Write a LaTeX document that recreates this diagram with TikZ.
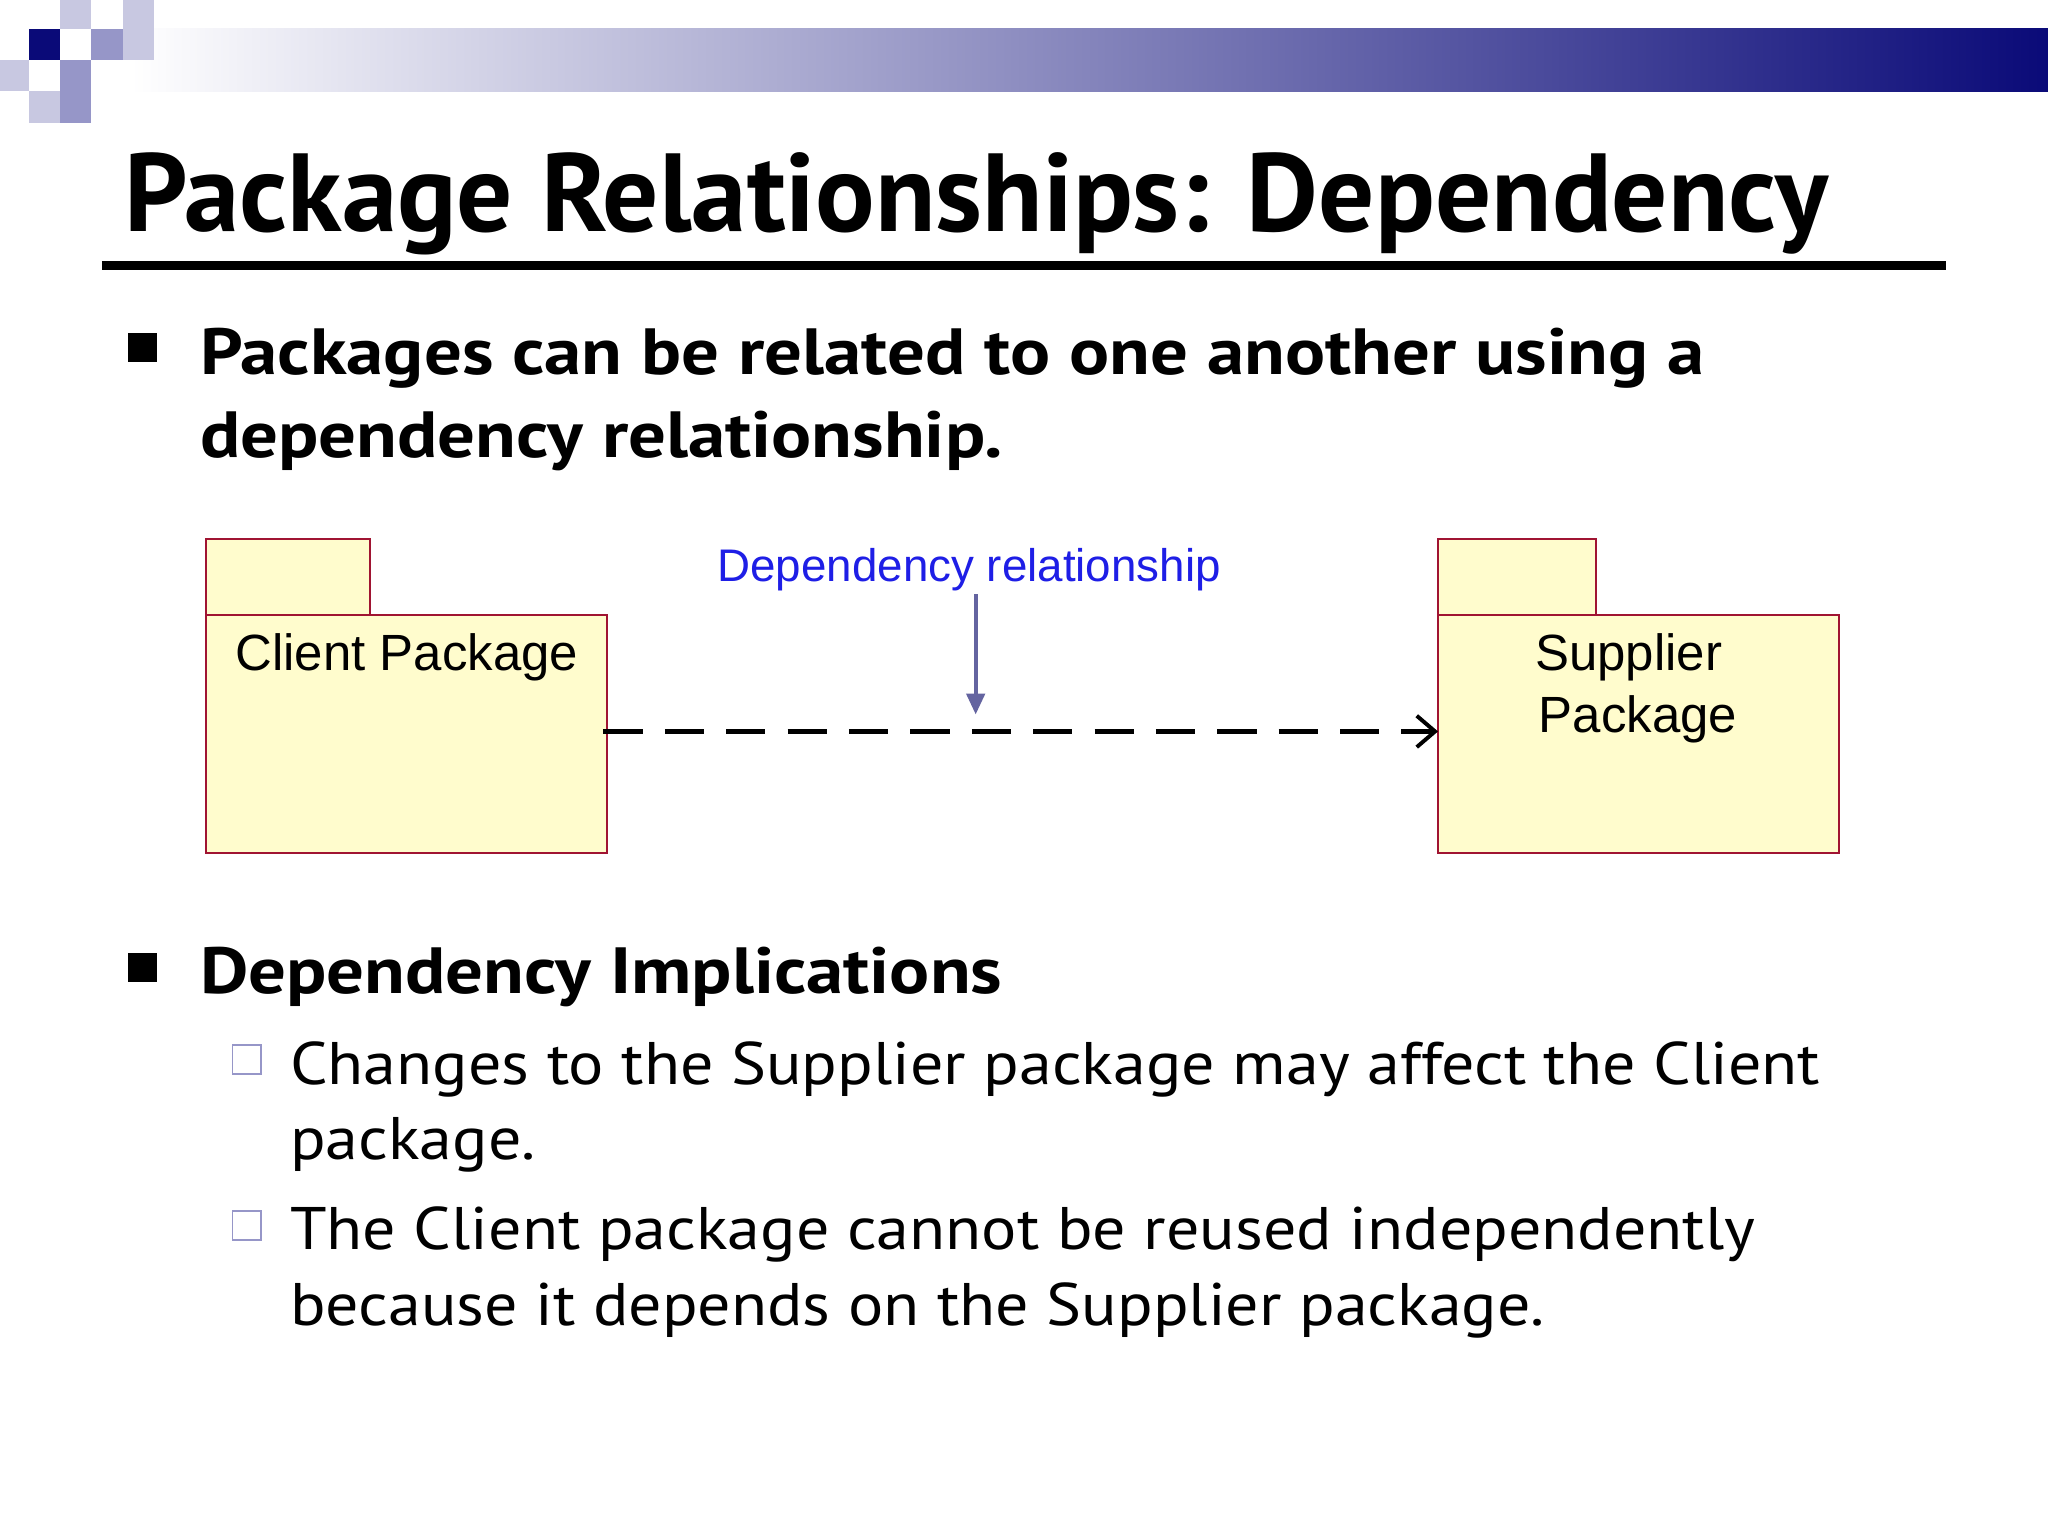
\documentclass[tikz,border=0pt]{standalone}
\usepackage{fontspec}
\setmainfont{PT Sans}
\newfontfamily\bulf[FakeStretch=1.145]{PT Sans}
\newfontfamily\subf[FakeStretch=1.098]{PT Sans}
\newfontfamily\arialf{Liberation Sans}
\usetikzlibrary{arrows.meta}
\definecolor{navyb}{RGB}{10,10,120}
\definecolor{pkgfill}{RGB}{255,252,205}
\definecolor{pkgline}{RGB}{160,20,50}
\definecolor{deplbl}{RGB}{30,30,230}
\definecolor{deparr}{RGB}{100,100,160}
\definecolor{sq2}{RGB}{150,150,200}
\definecolor{sq3}{RGB}{200,200,225}
\tikzset{
 pkg/.style={draw=pkgline,fill=pkgfill,line width=1.5pt},
 bigtxt/.style={anchor=base west,inner sep=0,font=\bulf\fontsize{50}{60}\selectfont\bfseries},
 subtxt/.style={anchor=base west,inner sep=0,font=\subf\fontsize{46}{58}\selectfont},
 dlbl/.style={font=\arialf\fontsize{35}{42}\selectfont,inner sep=0},
 plbl/.style={font=\arialf\fontsize{39}{46}\selectfont,inner sep=0,anchor=base}
}
\begin{document}
\begin{tikzpicture}[x=1pt,y=-1pt]
\useasboundingbox (0,0) rectangle (1568,1176);
\fill[white] (0,0) rectangle (1568,1176);
% header
\shade[left color=white,right color=navyb] (100,22) rectangle (1568,70);
\fill[sq3] (46,0) rectangle (70,22);
\fill[sq3] (94,0) rectangle (118,22);
\fill[sq2] (70,22) rectangle (94,46);
\fill[sq3] (94,22) rectangle (118,46);
\fill[sq2] (46,46) rectangle (70,70);
\fill[sq3] (0,46) rectangle (22,70);
\fill[sq2] (46,70) rectangle (70,94);
\fill[sq3] (22,70) rectangle (46,94);
\fill[navyb] (22,22) rectangle (46,46);
\node[anchor=base west,inner sep=0,font=\fontsize{85}{100}\selectfont\bfseries] (title) at (95,177) {Package Relationships: Dependency};
\draw[line width=7pt] (78,203) -- (1490,203);
% bullet 1
\fill (98,255) rectangle (120,277);
\node[bigtxt] (b1a) at (153,287) {Packages can be related to one another using a};
\node[bigtxt] (b1b) at (153,350) {dependency relationship.};
% packages
\draw[pkg] (158,413) rectangle (283,471);
\draw[pkg] (158,471) rectangle (465,653);
\node[plbl] (client) at (311.5,513) {Client Package};
\draw[pkg] (1101,413) rectangle (1222,471);
\draw[pkg] (1101,471) rectangle (1408,653);
\node[plbl] (supp) at (1247,513) {Supplier};
\node[plbl] (supp2) at (1254,561) {Package};
\coordinate (cr) at (462,560);
\coordinate (sl) at (1101,560);
\draw[line width=3.5pt,dash pattern=on 30pt off 17pt,-{Straight Barb[length=14pt,width=24pt,line width=3pt]}] (cr) -- (sl);
\node[dlbl,text=deplbl] (dl) at (742,436) {Dependency relationship};
\coordinate (tip) at (747,547);
\draw[deparr,line width=3pt,-{Triangle[length=16pt,width=14pt]}] (747,455) -- (tip);
% bullet 2
\fill (98,730) rectangle (120,752);
\node[bigtxt] (b2) at (153,761) {Dependency Implications};
\draw[sq2,line width=1.5pt] (178,800) rectangle (200,822);
\node[subtxt] at (222,830) {Changes to the Supplier package may affect the Client};
\node[subtxt] at (222,888) {package.};
\draw[sq2,line width=1.5pt] (178,927) rectangle (200,949);
\node[subtxt] at (222,957) {The Client package cannot be reused independently};
\node[subtxt] at (222,1015) {because it depends on the Supplier package.};
\end{tikzpicture}
\end{document}
